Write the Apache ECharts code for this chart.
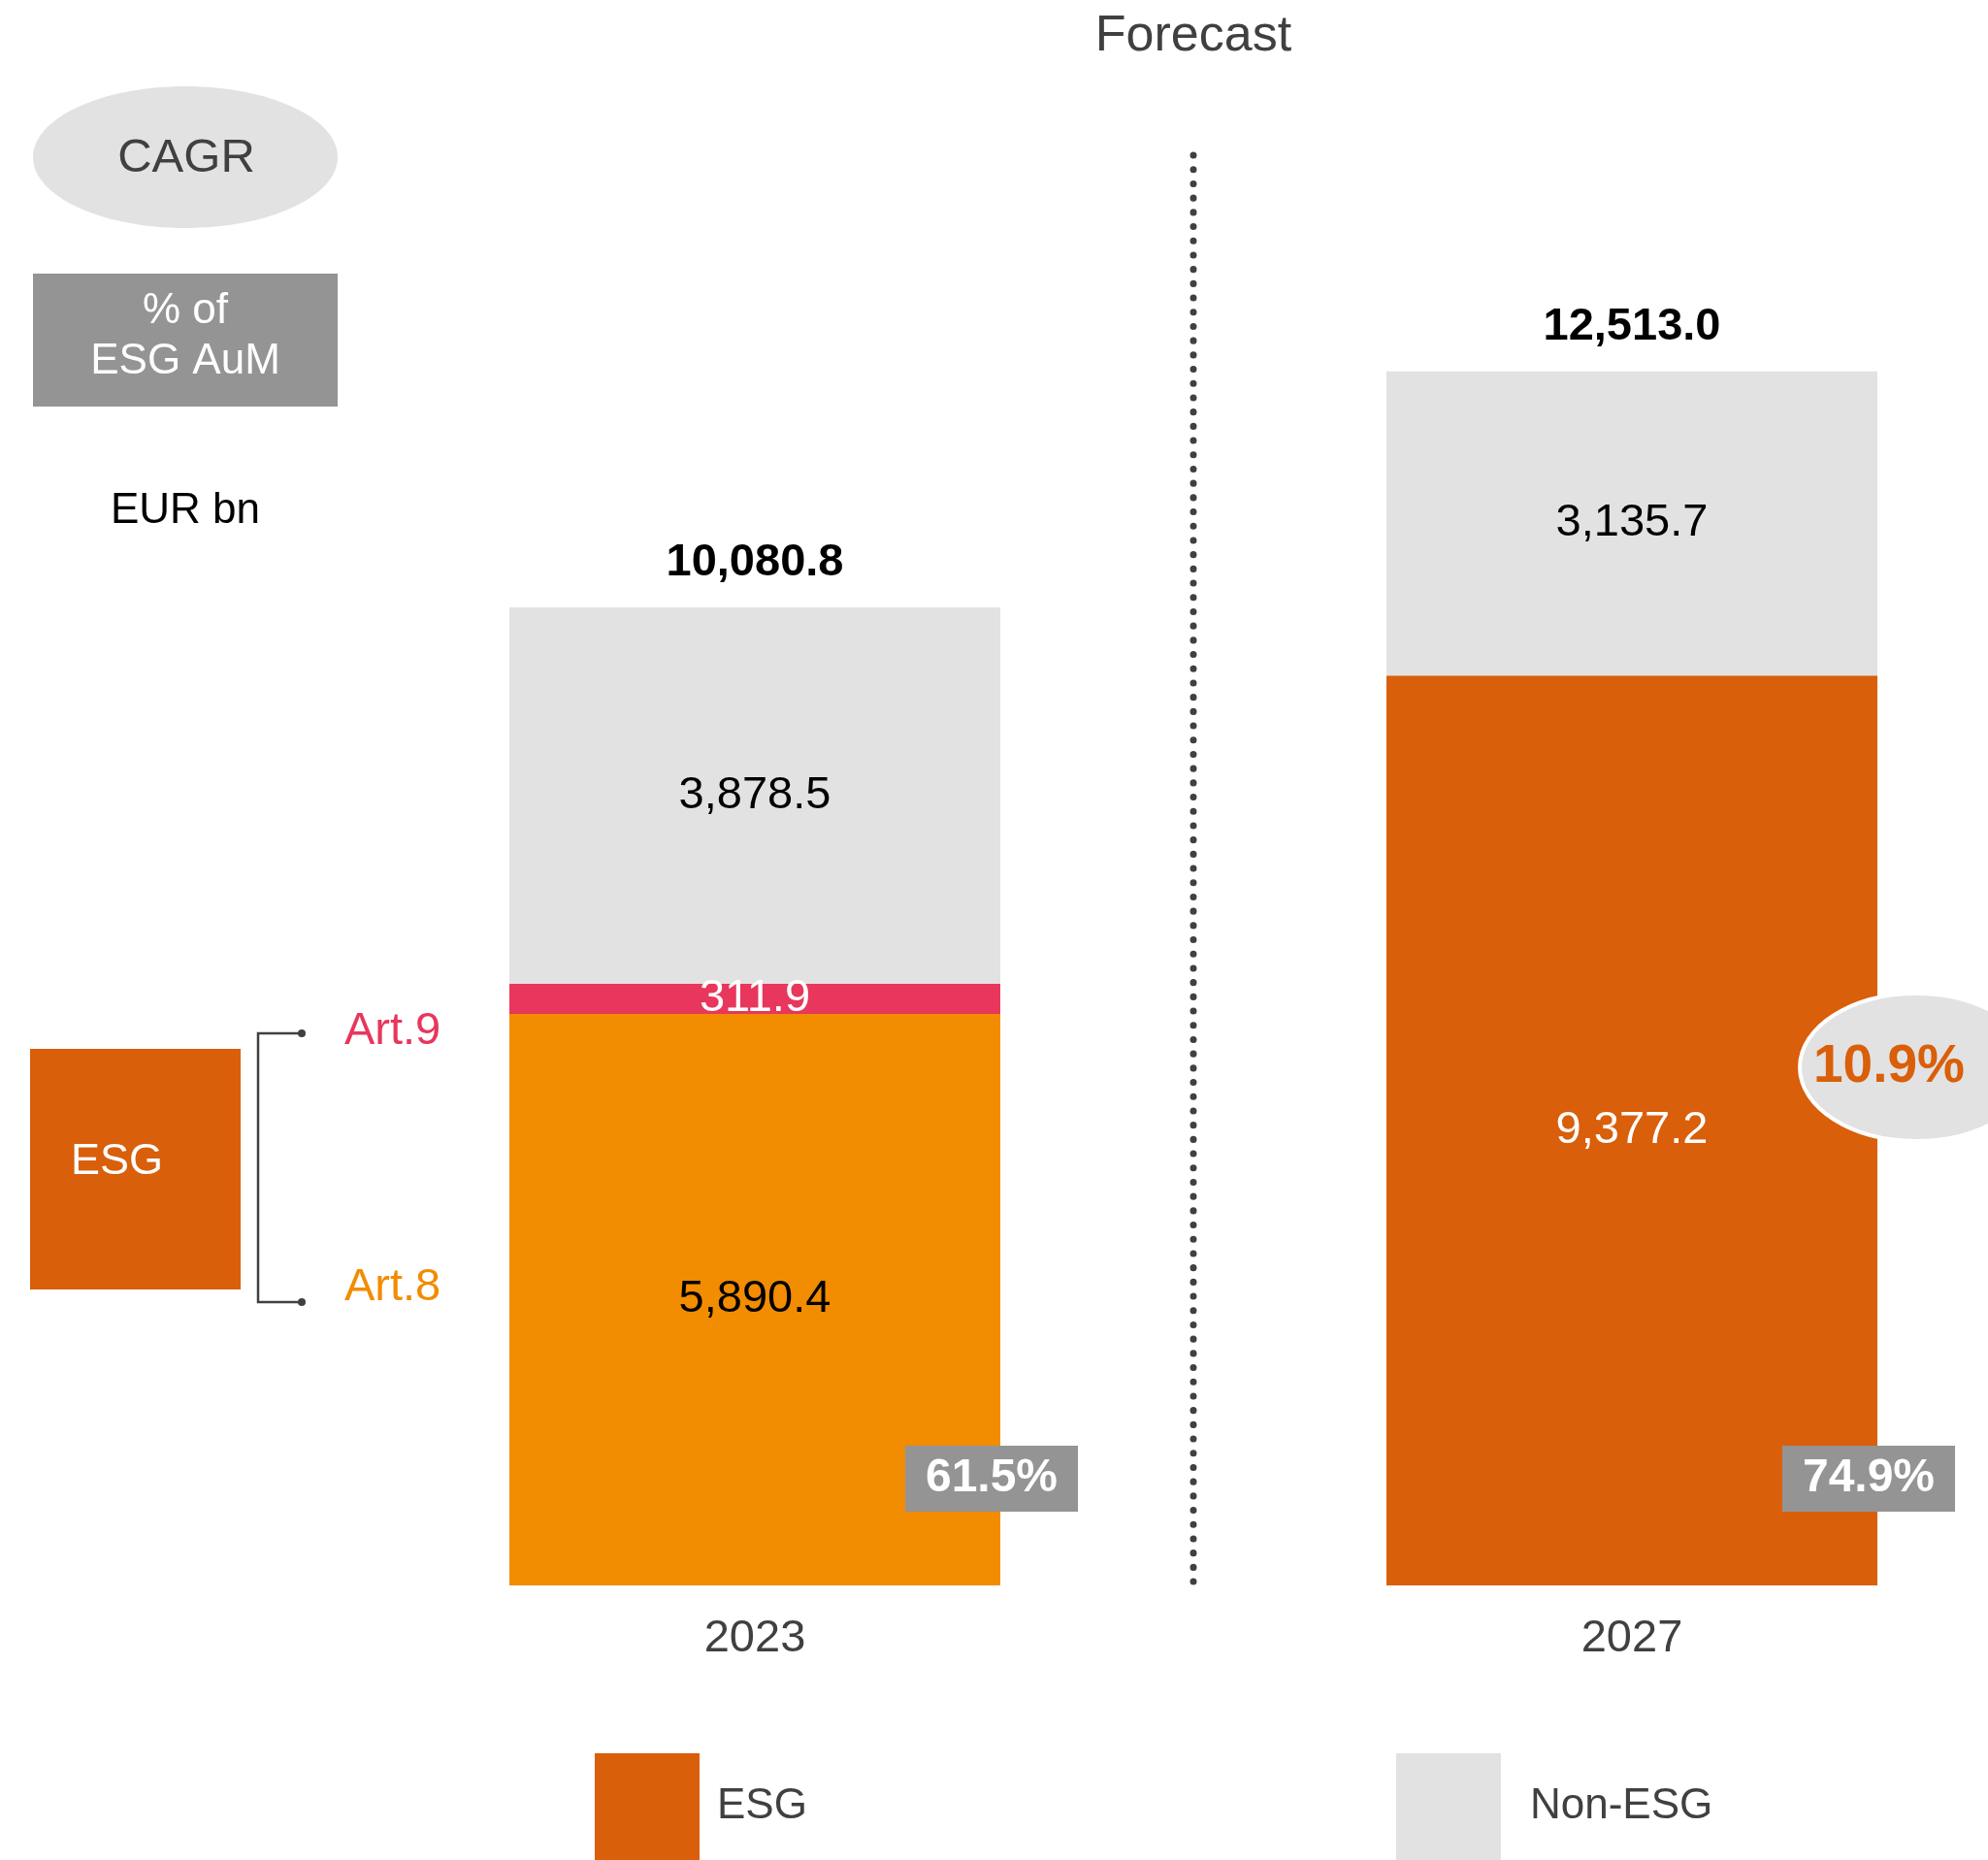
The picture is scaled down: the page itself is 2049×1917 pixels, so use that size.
<!DOCTYPE html>
<html>
<head>
<meta charset="utf-8">
<script src="https://cdn.jsdelivr.net/npm/echarts@6/dist/echarts.min.js"></script>
<style>
  html, body { margin: 0; padding: 0; background: #fff; }
  #main { width: 2049px; height: 1917px; }
</style>
</head>
<body>
<div id="main"></div>
<script>
// values in EUR bn
var years = ["2023", "2027"];
var art8 = [5890.4, null];
var art9 = [311.9, null];
var esg = [null, 9377.2];
var nonEsg = [3878.5, 3135.7];
var totals = [10080.8, 12513.0];
var esgShare = ["61.5%", "74.9%"];
var cagr = "10.9%";

var FONT = '"Helvetica Neue", "Liberation Sans", Arial, sans-serif';
var DARK = "#404040";
var ORANGE = "#D95F0A";
var ART8 = "#F28C00";
var ART9 = "#E8365D";
var GREY = "#E2E2E2";
var BADGE = "#949494";

function fmt(v) {
  return v.toLocaleString("en-US", { minimumFractionDigits: 1, maximumFractionDigits: 1 });
}

function inLabel(color) {
  return {
    show: true,
    position: "inside",
    color: color,
    fontSize: 47,
    fontFamily: FONT,
    formatter: function (p) { return fmt(p.value); }
  };
}

var chart = echarts.init(document.getElementById("main"));

chart.setOption({
  animation: false,
  backgroundColor: "#fff",
  grid: { left: 326, width: 1808, top: 234, height: 1400, containLabel: false, outerBoundsMode: "none" },
  legend: {
    data: [
      { name: "ESG", textStyle: { padding: [0, 0, 0, 13] } },
      { name: "Non-ESG", textStyle: { padding: [0, 0, 0, 25] } }
    ],
    left: 613,
    top: 1807,
    padding: 0,
    icon: "rect",
    itemWidth: 108,
    itemHeight: 110,
    itemGap: 607,
    selectedMode: false,
    textStyle: { fontSize: 44, color: DARK, fontFamily: FONT }
  },
  xAxis: {
    type: "category",
    data: years,
    axisLine: { show: false },
    axisTick: { show: false },
    axisLabel: { fontSize: 47, color: DARK, fontFamily: FONT, margin: 32 }
  },
  yAxis: { type: "value", min: 0, max: 14000, show: false },
  series: [
    { name: "Art.8", type: "bar", stack: "aum", barWidth: 506, data: art8,
      itemStyle: { color: ART8 }, label: inLabel("#000") },
    { name: "Art.9", type: "bar", stack: "aum", barWidth: 506, data: art9,
      itemStyle: { color: ART9 }, label: inLabel("#fff") },
    { name: "ESG", type: "bar", stack: "aum", barWidth: 506, data: esg,
      itemStyle: { color: ORANGE }, label: inLabel("#fff") },
    { name: "Non-ESG", type: "bar", stack: "aum", barWidth: 506, data: nonEsg,
      itemStyle: { color: GREY }, label: inLabel("#000") },
    {
      name: "total", type: "scatter", symbolSize: 1,
      itemStyle: { color: "rgba(0,0,0,0)", opacity: 1 },
      data: totals.map(function (v, i) { return [years[i], v]; }),
      label: {
        show: true, position: "top", distance: 22,
        fontSize: 47, fontWeight: "bold", color: "#000", fontFamily: FONT,
        formatter: function (p) { return fmt(p.value[1]); }
      }
    },
    {
      name: "share", type: "scatter", symbolSize: 1, z: 10,
      itemStyle: { color: "rgba(0,0,0,0)", opacity: 1 },
      data: esgShare.map(function (s, i) { return [years[i], 0]; }),
      label: {
        show: true, position: "inside", offset: [244, -110],
        backgroundColor: BADGE, padding: [10, 21],
        fontSize: 48, fontWeight: "bold", color: "#fff", fontFamily: FONT,
        formatter: function (p) { return esgShare[p.dataIndex]; }
      }
    }
  ]
});

// annotations placed from the axes
var p0 = chart.convertToPixel({ gridIndex: 0 }, ["2023", 0]);
var p1 = chart.convertToPixel({ gridIndex: 0 }, ["2027", 0]);
var midX = (p0[0] + p1[0]) / 2;
var base = p0[1];

function txt(x, y, s, font, fill, align) {
  return {
    type: "text", x: x, y: y, z: 20,
    style: { text: s, font: font, fill: fill, textAlign: align || "center", textVerticalAlign: "middle" }
  };
}

chart.setOption({
  graphic: [
    txt(midX, 38, "Forecast", "52px " + FONT, DARK),
    {
      type: "line", z: 5,
      shape: { x1: midX, y1: 160, x2: midX, y2: base - 3 },
      style: { stroke: DARK, lineWidth: 7, lineDash: [0.1, 14.6], lineCap: "round" }
    },
    // left key
    { type: "ellipse", shape: { cx: 191, cy: 162, rx: 157, ry: 73 }, style: { fill: GREY } },
    txt(192, 163, "CAGR", "49px " + FONT, DARK),
    { type: "rect", shape: { x: 34, y: 282, width: 314, height: 137 }, style: { fill: BADGE } },
    txt(191, 321, "% of", "44px " + FONT, "#fff"),
    txt(191, 373, "ESG AuM", "44px " + FONT, "#fff"),
    txt(191, 527, "EUR bn", "44px " + FONT, "#000"),
    { type: "rect", shape: { x: 31, y: 1081, width: 217, height: 248 }, style: { fill: ORANGE } },
    txt(73, 1198, "ESG", "45px " + FONT, "#fff", "left"),
    {
      type: "polyline",
      shape: { points: [[311, 1065], [266, 1065], [266, 1342], [311, 1342]] },
      style: { stroke: DARK, lineWidth: 2.5, fill: null }
    },
    { type: "circle", shape: { cx: 311, cy: 1065, r: 4 }, style: { fill: DARK } },
    { type: "circle", shape: { cx: 311, cy: 1342, r: 4 }, style: { fill: DARK } },
    txt(355, 1063, "Art.9", "47px " + FONT, ART9, "left"),
    txt(355, 1327, "Art.8", "47px " + FONT, ART8, "left"),
    // CAGR bubble on the 2027 bar
    {
      type: "ellipse", z: 15,
      shape: { cx: 1975, cy: 1100, rx: 120, ry: 76 },
      style: { fill: GREY, stroke: "#fff", lineWidth: 4 }
    },
    txt(1947, 1100, cagr, "bold 55px " + FONT, ORANGE)
  ]
});
</script>
</body>
</html>
